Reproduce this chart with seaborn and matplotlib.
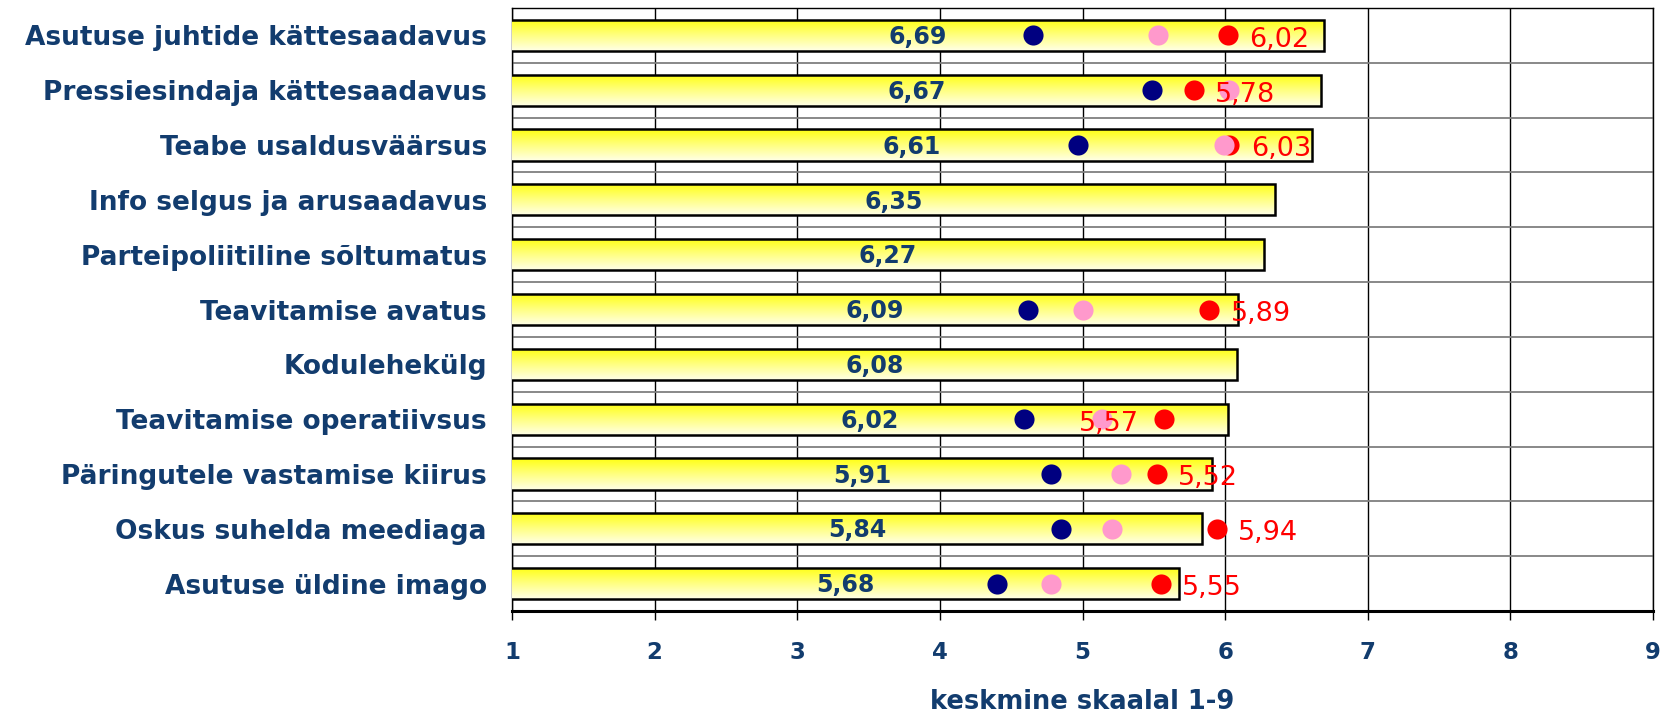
import numpy as np
import pandas as pd
import seaborn as sns
import matplotlib.pyplot as plt
from matplotlib.colors import LinearSegmentedColormap

categories = [
    "Asutuse juhtide kättesaadavus",
    "Pressiesindaja kättesaadavus",
    "Teabe usaldusväärsus",
    "Info selgus ja arusaadavus",
    "Parteipoliitiline sõltumatus",
    "Teavitamise avatus",
    "Kodulehekülg",
    "Teavitamise operatiivsus",
    "Päringutele vastamise kiirus",
    "Oskus suhelda meediaga",
    "Asutuse üldine imago",
]
overall = [6.69, 6.67, 6.61, 6.35, 6.27, 6.09, 6.08, 6.02, 5.91, 5.84, 5.68]
navy_vals = [4.65, 5.49, 4.97, np.nan, np.nan, 4.62, np.nan, 4.59, 4.78, 4.85, 4.40]
pink_vals = [5.53, 6.03, 5.99, np.nan, np.nan, 5.00, np.nan, 5.14, 5.27, 5.21, 4.78]
red_vals = [6.02, 5.78, 6.03, np.nan, np.nan, 5.89, np.nan, 5.57, 5.52, 5.94, 5.55]
red_label_side = ["right", "right", "right", None, None, "right", None, "left", "right", "right", "right"]
x_ticks = [1, 2, 3, 4, 5, 6, 7, 8, 9]
x_label = "keskmine skaalal 1-9"

TEXT = "#123C6E"
NAVY = "#000080"
PINK = "#FF99CC"
RED = "#FF0000"
XMIN, XMAX = 1, 9

sns.set_theme(style="white")
plt.rcParams["font.family"] = ["DejaVu Sans"]

fig = plt.figure(figsize=(16.68, 7.14), dpi=100)
ax = fig.add_axes([512 / 1668, 1 - 611 / 714, (1653 - 512) / 1668, (611 - 8) / 714])

df = pd.DataFrame({"cat": categories, "overall": overall,
                   "navy": navy_vals, "pink": pink_vals, "red": red_vals})

sns.barplot(data=df, x="overall", y="cat", orient="h", width=0.57,
            color="#FFFF00", edgecolor="black", linewidth=1.8, ax=ax, zorder=3)

# gradient fill for each bar
cmap = LinearSegmentedColormap.from_list("yel", ["#FFFF10", "#FFFF80", "#FFFFE8"])
grad = np.linspace(0, 1, 256).reshape(-1, 1)
bars = list(ax.patches)
for p in bars:
    b = p.get_bbox()
    x0, x1 = max(min(b.x0, b.x1), XMIN), max(b.x0, b.x1)
    y0, y1 = min(b.y0, b.y1), max(b.y0, b.y1)
    im = ax.imshow(grad, extent=(x0, x1, y1, y0), origin="upper", aspect="auto",
                   cmap=cmap, zorder=2.9, interpolation="bilinear")
    im.set_clip_path(p)
    p.set_facecolor("none")

ax.set_xlim(XMIN, XMAX)
ax.set_ylim(len(categories) - 0.5, -0.5)

# dots
sns.scatterplot(data=df, x="navy", y="cat", color=NAVY, s=210, linewidth=0, ax=ax, zorder=5)
sns.scatterplot(data=df, x="red", y="cat", color=RED, s=210, linewidth=0, ax=ax, zorder=6)
sns.scatterplot(data=df, x="pink", y="cat", color=PINK, s=210, linewidth=0, ax=ax, zorder=7)

# labels
for i, v in enumerate(overall):
    ax.text((XMIN + v) / 2, i + 0.03, f"{v:.2f}".replace(".", ","), ha="center", va="center",
            color=TEXT, fontsize=17, fontweight="bold", zorder=8)
for i, (v, side) in enumerate(zip(red_vals, red_label_side)):
    if side is None:
        continue
    lab = f"{v:.2f}".replace(".", ",")
    if side == "right":
        ax.text(v + 0.15, i + 0.08, lab, ha="left", va="center", color=RED, fontsize=19.5, zorder=9)
    else:
        ax.text(v - 0.17, i + 0.08, lab, ha="right", va="center", color=RED, fontsize=19.5, zorder=9)

# grid
ax.set_xticks(x_ticks)
ax.set_xticklabels([str(t) for t in x_ticks])
ax.set_yticks(np.arange(len(categories) + 1) - 0.5, minor=True)
ax.grid(axis="x", which="major", color="black", linewidth=1.0, zorder=1)
ax.grid(axis="y", which="minor", color="#7f7f7f", linewidth=1.3, zorder=1)
ax.grid(axis="y", which="major", visible=False)
ax.set_axisbelow(True)

for s in ax.spines.values():
    s.set_color("black")
    s.set_linewidth(1.0)
ax.spines["bottom"].set_linewidth(2.2)

ax.tick_params(axis="x", which="major", direction="out", length=6.5, width=1, color="black",
               pad=15, labelsize=16.5, labelcolor=TEXT, bottom=True)
ax.tick_params(axis="y", which="both", length=0, pad=18, labelsize=19, labelcolor=TEXT)
for t in ax.get_xticklabels():
    t.set_fontweight("bold")
for t in ax.get_yticklabels():
    t.set_fontweight("bold")

ax.set_ylabel("")
ax.set_xlabel(x_label, fontsize=18.5, fontweight="bold", color=TEXT, labelpad=18)

fig.savefig("out.png", dpi=100)
